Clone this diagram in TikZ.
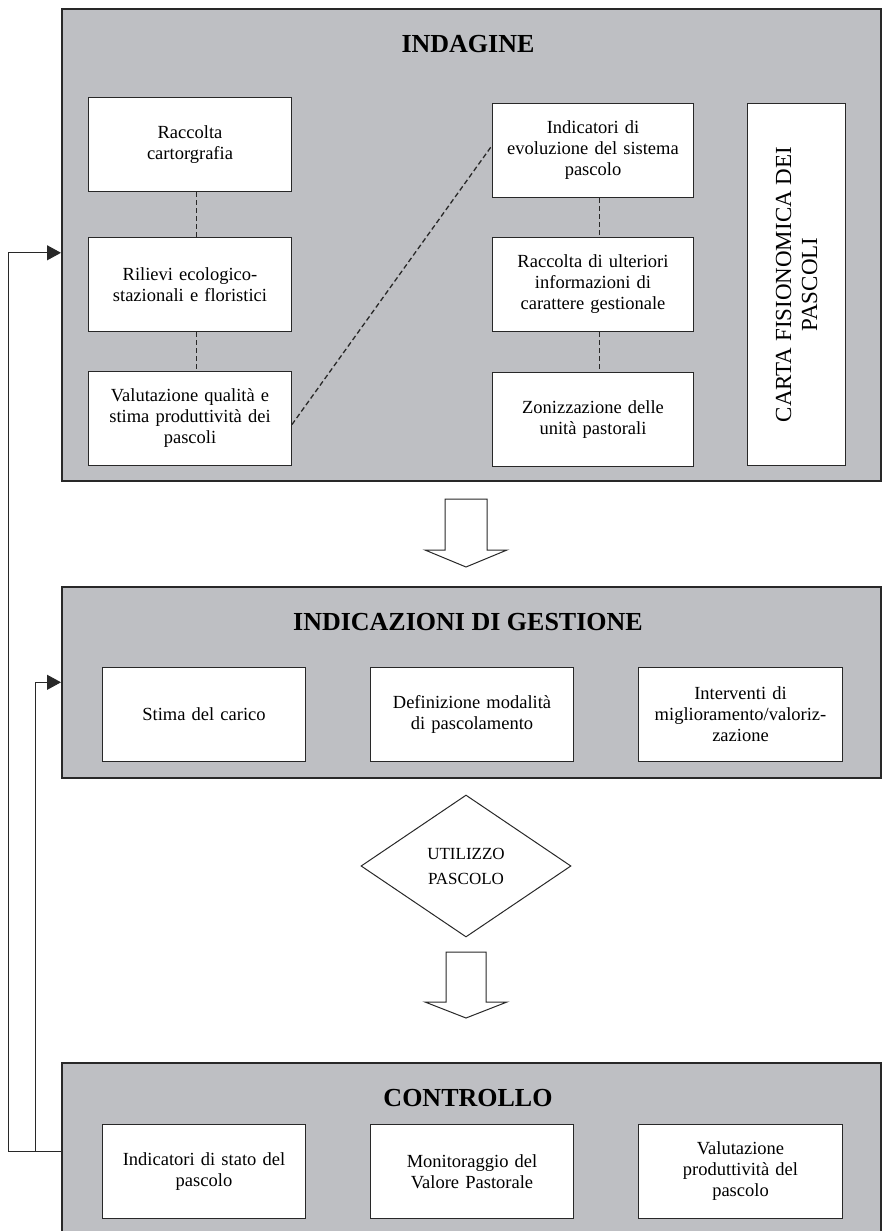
\documentclass[tikz,border=0pt]{standalone}
\usepackage{fontspec}
\setmainfont{Liberation Serif}
\usetikzlibrary{arrows.meta,shapes.geometric}

\definecolor{panelgray}{RGB}{190,191,195}
\definecolor{edge}{RGB}{40,40,40}

\begin{document}
\begin{tikzpicture}[x=1pt,y=-1pt,
  panel/.style={draw=edge, line width=1.6pt, fill=panelgray, rectangle,
    inner sep=0pt, anchor=north west, minimum width=819pt},
  box/.style={draw=edge, line width=1pt, fill=white, rectangle, inner sep=0pt,
    anchor=north west, minimum width=203pt, minimum height=94pt,
    text width=197pt, align=center, font=\fontsize{18.5}{21}\selectfont},
  title/.style={font=\fontsize{26}{30}\selectfont\bfseries},
  link/.style={draw=edge, line width=1.3pt, dash pattern=on 5pt off 3pt},
  fb/.style={draw=edge, line width=1pt},
  fbarrow/.style={fb, -{Triangle[length=14pt,width=15pt]}},
  bigarrow/.style={draw=edge, line width=1pt, fill=white, line join=miter},
]
\useasboundingbox (0,0) rectangle (882,1231);
\clip (0,0) rectangle (882,1231);

% ---- panels ----
\node[panel, minimum height=472pt] (indagine) at (61,8) {};
\node[panel, minimum height=191pt] (gest) at (61,586) {};
\node[panel, minimum height=200pt] (ctrl) at (61,1062) {};

% ---- titles ----
\node[title] (tind) at (468,44) {INDAGINE};
\node[title] (tgest) at (468,622) {INDICAZIONI DI GESTIONE};
\node[title] (tctrl) at (468,1098) {CONTROLLO};

% ---- INDAGINE: left column ----
\node[box] (raccolta) at (88,97) {Raccolta\\cartorgrafia};
\node[box] (rilievi) at (88,237) {Rilievi ecologico-\\stazionali e floristici};
\node[box] (valut) at (88,371) {Valutazione qualità e\\stima produttività dei\\pascoli};

% ---- INDAGINE: right column ----
\node[box, minimum width=201pt] (indic) at (492,103) {Indicatori di\\evoluzione del sistema\\pascolo};
\node[box, minimum width=201pt] (ulteriori) at (492,237) {Raccolta di ulteriori\\informazioni di\\carattere gestionale};
\node[box, minimum width=201pt] (zoniz) at (492,372) {Zonizzazione delle\\unità pastorali};

% ---- map box with vertical caption ----
\node[box, minimum width=98pt, minimum height=362pt, text width=90pt] (carta) at (747,103) {};
\node[rotate=90, align=center, font=\fontsize{23}{26}\selectfont] (cartatxt) at (carta.center)
  {CARTA FISIONOMICA DEI\\PASCOLI};

% ---- dashed links ----
\draw[link] ([xshift=6.5pt]raccolta.south) -- ([xshift=6.5pt]rilievi.north);
\draw[link] ([xshift=6.5pt]rilievi.south) -- ([xshift=6.5pt]valut.north);
\draw[link] ([yshift=-6pt]valut.east) -- ([yshift=5pt]indic.west);
\draw[link] ([xshift=6.5pt]indic.south) -- ([xshift=6.5pt]ulteriori.north);
\draw[link] ([xshift=6.5pt]ulteriori.south) -- ([xshift=6.5pt]zoniz.north);

% ---- INDICAZIONI DI GESTIONE ----
\node[box] (stima) at (102,667) {Stima del carico};
\node[box] (defin) at (370,667) {Definizione modalità\\di pascolamento};
\node[box, minimum width=204pt] (interv) at (638,667) {Interventi di\\miglioramento/valoriz-\\zazione};

% ---- block arrows and decision ----
\draw[bigarrow] (445,499) -- (487,499) -- (487,550) -- (507,550) -- (466,567)
  -- (425,550) -- (445,550) -- cycle;
\node[draw=edge, line width=1pt, fill=white, diamond, minimum width=210pt,
  minimum height=142pt, inner sep=0pt, align=center,
  font=\fontsize{17}{25}\selectfont] (utilizzo) at (466,866) {UTILIZZO\\PASCOLO};
\draw[bigarrow] (446,952) -- (486,952) -- (486,1002) -- (507,1002) -- (466,1018)
  -- (425,1002) -- (446,1002) -- cycle;

% ---- CONTROLLO ----
\node[box] (stato) at (102,1124) {Indicatori di stato del\\pascolo};
\node[box] (monit) at (370,1124) {Monitoraggio del\\Valore Pastorale};
\node[box, minimum width=204pt] (prod) at (638,1124) {Valutazione\\produttività del\\pascolo};

% ---- feedback loops ----
\coordinate (fbfoot) at (8,1151);
\coordinate (fbjoin) at (35,1151);
\draw[fbarrow] (ctrl.west |- fbfoot) -- (fbfoot) |- ([yshift=-8pt]indagine.west);
\draw[fbarrow] (fbjoin) |- (gest.west);
\end{tikzpicture}
\end{document}
